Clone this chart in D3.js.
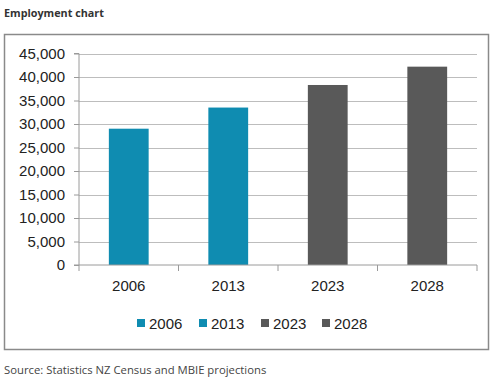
<!DOCTYPE html>
<html lang="en">
<head>
<meta charset="UTF-8" />
<script src="https://d3js.org/d3.v7.min.js"></script>
<title>Employment chart</title>
<style>
  body { margin: 0; background: #fff; }
  text { font-family: "Open Sans", "DejaVu Sans", sans-serif; }
</style>
</head>
<body>
<script>
// data
var years = ["2006", "2013", "2023", "2028"];
var employment = [29000, 33500, 38300, 42200];
var barColors = ["#0f8cb1", "#0f8cb1", "#595959", "#595959"];
var yTicks = [0, 5000, 10000, 15000, 20000, 25000, 30000, 35000, 40000, 45000];

var width = 500, height = 382;
var svg = d3.select("body").append("svg").attr("width", width).attr("height", height);

// title and source
svg.append("text").attr("x", 4).attr("y", 17)
  .attr("font-size", 10.8).attr("font-weight", "bold").attr("fill", "#333")
  .text("Employment chart");
svg.append("text").attr("x", 4).attr("y", 374)
  .attr("font-size", 11.3).attr("fill", "#444")
  .text("Source: Statistics NZ Census and MBIE projections");

// outer frame
svg.append("rect").attr("x", 4.5).attr("y", 34.5).attr("width", 484).attr("height", 315)
  .attr("fill", "none").attr("stroke", "#8a8a8a").attr("stroke-width", 1.5);

var x = d3.scaleBand().domain(years).range([79, 477]).paddingInner(0.6).paddingOuter(0.3);
var y = d3.scaleLinear().domain([0, 45000]).range([265, 53.5]);

// gridlines
svg.append("g").selectAll("line").data(yTicks.slice(1)).join("line")
  .attr("x1", 79).attr("x2", 477)
  .attr("y1", function(d){ return Math.round(y(d)) + 0.5; })
  .attr("y2", function(d){ return Math.round(y(d)) + 0.5; })
  .attr("stroke", "#bdbdbd").attr("stroke-width", 1.2);

// bars
svg.append("g").selectAll("rect").data(employment).join("rect")
  .attr("x", function(d, i){ return x(years[i]); })
  .attr("width", x.bandwidth())
  .attr("y", function(d){ return y(d); })
  .attr("height", function(d){ return y(0) - y(d); })
  .attr("fill", function(d, i){ return barColors[i]; });

// y axis
var yAxis = svg.append("g").attr("transform", "translate(79,0)")
  .call(d3.axisLeft(y).tickValues(yTicks).tickSize(5).tickPadding(9)
    .tickFormat(d3.format(",")));
yAxis.selectAll("text").attr("font-size", 15).attr("fill", "#222")
  .style("font-family", "'Liberation Sans', sans-serif");
yAxis.selectAll("line, path").attr("stroke", "#9a9a9a");
yAxis.select(".domain").attr("d", "M-5,53.5H0V265H-5");

// x axis with ticks at band edges
var xAxis = svg.append("g").attr("transform", "translate(0,265)")
  .call(d3.axisBottom(x).tickSize(0).tickPadding(15));
xAxis.selectAll("text").attr("font-size", 15).attr("fill", "#222")
  .style("font-family", "'Liberation Sans', sans-serif");
xAxis.select(".domain").attr("stroke", "#9a9a9a").attr("d", "M79,0H477");
var edges = years.map(function(d){ return x(d) - x.step() * x.paddingInner() / 2; }).concat([477]);
xAxis.selectAll(".edge").data(edges).join("line").attr("class", "edge")
  .attr("x1", function(d){ return d; }).attr("x2", function(d){ return d; })
  .attr("y1", 0).attr("y2", 6).attr("stroke", "#9a9a9a");

// legend
var legendX = [137, 199, 261, 322];
var legend = svg.append("g").selectAll("g").data(years).join("g")
  .attr("transform", function(d, i){ return "translate(" + legendX[i] + ",323)"; });
legend.append("rect").attr("x", 0).attr("y", -4).attr("width", 8).attr("height", 8)
  .attr("fill", function(d, i){ return barColors[i]; });
legend.append("text").attr("x", 12).attr("y", 5.5)
  .attr("font-size", 15).attr("fill", "#222")
  .style("font-family", "'Liberation Sans', sans-serif")
  .text(function(d){ return d; });
</script>
</body>
</html>
